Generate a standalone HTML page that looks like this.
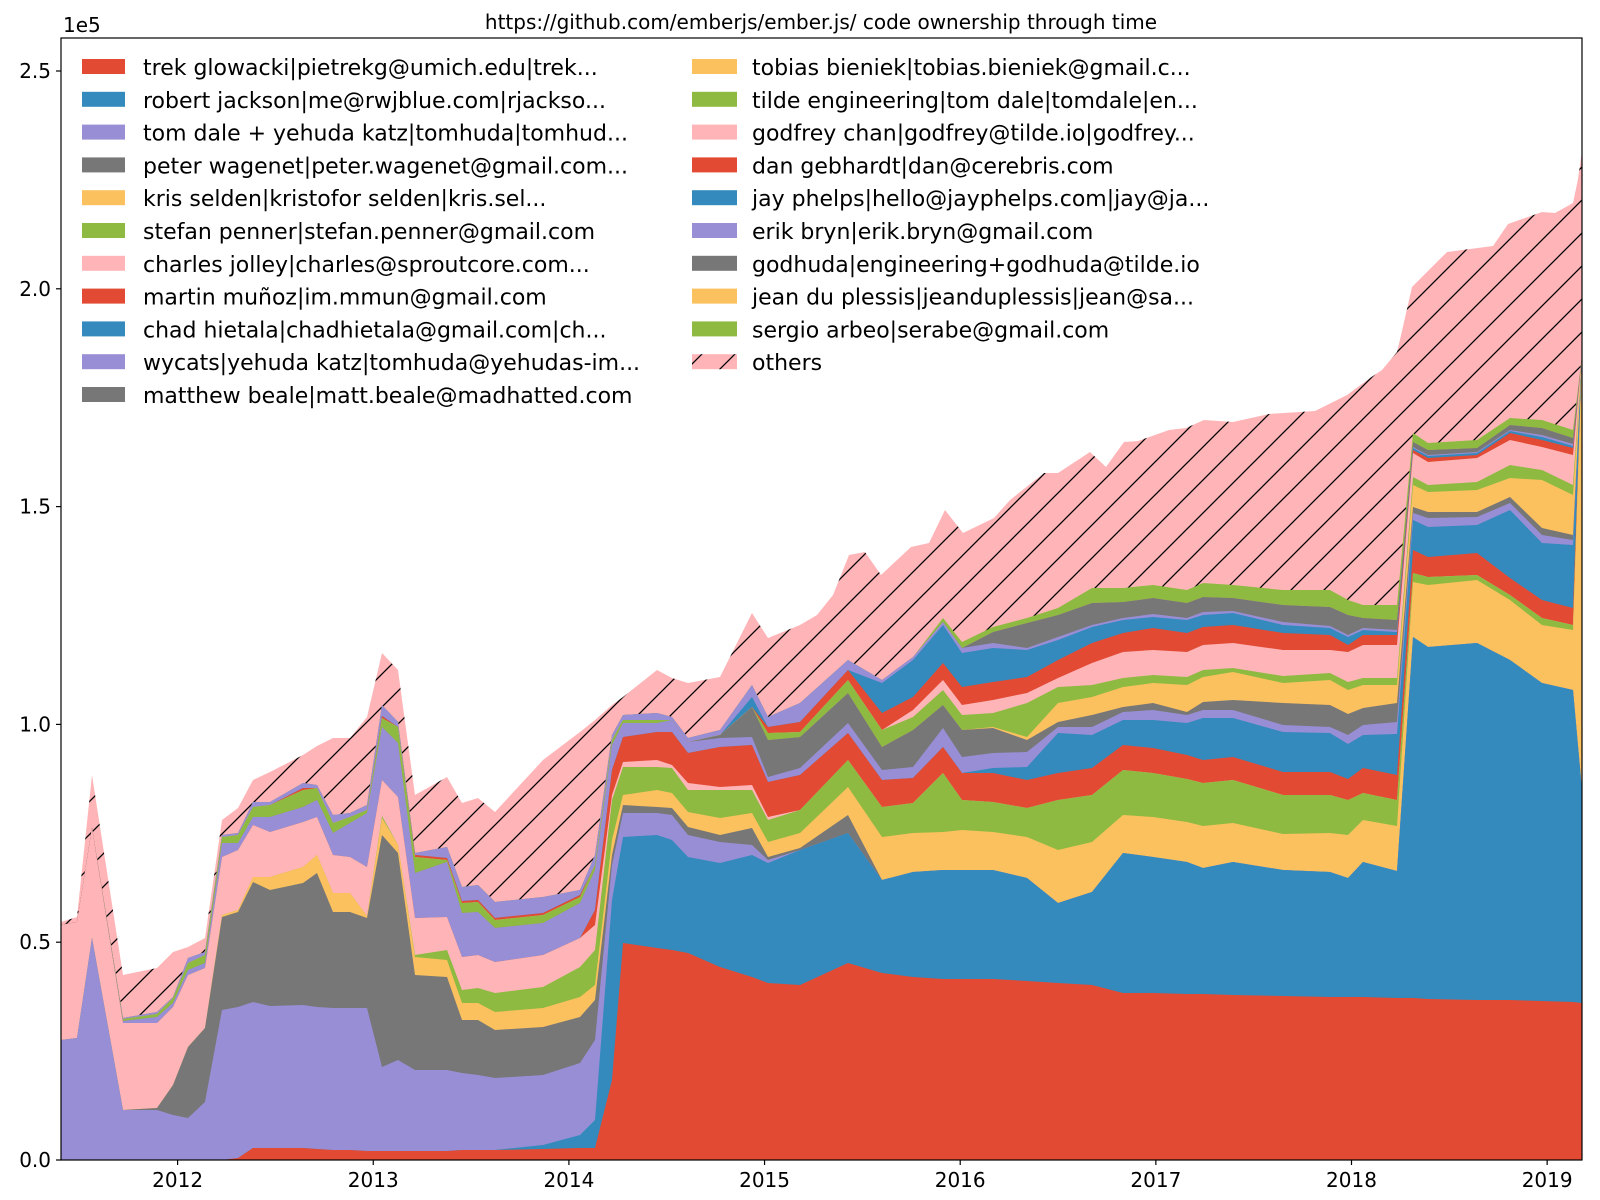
<!DOCTYPE html>
<html><head><meta charset="utf-8">
<style>
html,body{margin:0;padding:0;background:#fff;}
svg{display:block;font-family:"DejaVu Sans","Liberation Sans",sans-serif;}
</style></head>
<body>
<svg id="s" width="1600" height="1200" viewBox="0 0 1600 1200" xmlns="http://www.w3.org/2000/svg">
<defs>
<pattern id="hatch" patternUnits="userSpaceOnUse" width="33" height="33">
<rect width="33" height="33" fill="#FFB5B8"/>
<path d="M-2,35 L35,-2 M-10,10 L10,-10 M23,43 L43,23" stroke="#000" stroke-width="1.3"/>
</pattern>
<clipPath id="ax"><rect x="61" y="38" width="1521" height="1122"/></clipPath>
</defs>
<g id="plot" clip-path="url(#ax)"></g>
<rect x="61" y="38" width="1521" height="1122" fill="none" stroke="#000" stroke-width="1.2"/>
<g id="ticks"></g>
<text x="821" y="29" font-size="20" text-anchor="middle">https://github.com/emberjs/ember.js/ code ownership through time</text>
<text x="63" y="32" font-size="20">1e5</text>
<g id="legend"></g>
</svg>
<script>
var C=["#E24A33","#348ABD","#988ED5","#777777","#FBC15E","#8EBA42","#FFB5B8"];
var colors=[];for(var i=0;i<20;i++)colors.push(C[i%7]);
var B=1160;
var total=[[61,922],[77,917],[92,775],[123,975],[157,968],[173,952],[188,947],[205,938],[222,820],[238,808],[253,780],[270,772],[303,755],[317,746],[333,738],[350,738],[367,717],[382,653],[398,670],[415,795],[447,777],[462,803],[478,798],[495,812],[543,760],[580,732],[595,720],[612,705],[623,697],[657,670],[672,678],[688,683],[720,677],[752,613],[768,638],[800,625],[817,615],[833,595],[849,555],[865,552],[881,575],[911,547],[929,543],[945,510],[963,533],[994,518],[1010,500],[1044,473],[1058,473],[1090,452],[1106,467],[1124,442],[1138,441],[1169,430],[1186,428],[1204,420],[1233,422],[1269,414],[1315,411],[1347,395],[1370,378],[1382,370],[1397,352],[1402,331],[1412,287],[1447,252],[1493,246],[1508,224],[1542,212],[1555,213],[1573,203],[1578,179],[1582,151]];
var cols=[
[61,{2:1040,6:925}],
[77,{2:1038,6:922}],
[92,{2:938,6:828}],
[123,{2:1110,6:1023,9:1021,12:1019,16:1018}],
[157,{2:1110,3:1108,6:1023,9:1017,12:1014,16:1012}],
[173,{2:1115,3:1085,6:1007,9:1003,12:998,16:997}],
[188,{2:1118,3:1047,6:975,9:970,12:963,16:958}],
[205,{2:1102,3:1028,6:968,9:963,12:955,16:952}],
[222,{2:1010,3:917,4:915,6:857,9:843,12:837,16:835}],
[238,{0:1158,2:1007,3:912,4:910,6:850,9:843,12:835,16:833}],
[253,{0:1148,2:1002,3:882,4:877,6:825,9:817,12:807,16:802}],
[270,{0:1148,2:1006,3:890,4:877,6:832,9:817,12:805,16:802}],
[303,{0:1148,2:1005,3:883,4:867,6:822,9:807,12:790,14:788,16:783}],
[317,{0:1149,2:1007,3:873,4:855,6:817,9:800,12:788,16:785}],
[333,{0:1150,2:1008,3:912,4:893,6:855,9:833,12:823,16:815}],
[350,{0:1150,2:1008,3:912,4:893,6:857,9:823,12:817,16:813}],
[367,{0:1151,2:1008,3:918,4:916,6:867,9:813,12:810,16:805}],
[382,{0:1151,2:1067,3:835,4:818,5:816,6:780,9:727,12:718,14:716,16:705}],
[398,{0:1151,2:1060,3:853,4:845,6:797,9:743,12:727,16:722}],
[415,{0:1151,2:1070,3:975,4:957,5:955,6:918,9:873,12:857,14:855,16:853}],
[447,{0:1151,2:1070,3:977,4:960,5:950,6:917,9:862,12:860,14:858,16:847}],
[462,{0:1150,2:1073,3:1020,4:1003,5:990,6:957,9:913,12:903,14:901,16:887}],
[478,{0:1150,2:1075,3:1020,4:1003,5:988,6:955,9:912,12:902,14:900,16:885}],
[495,{0:1150,2:1078,3:1030,4:1012,5:993,6:962,9:928,12:920,14:918,16:902}],
[543,{0:1149,1:1145,2:1075,3:1027,4:1008,5:987,6:955,9:923,12:915,14:913,16:897}],
[580,{0:1148,1:1135,2:1063,3:1017,4:997,5:967,6:938,9:903,12:897,14:895,16:890}],
[595,{0:1148,1:1120,2:1040,3:1000,4:985,5:950,6:925,7:910,9:870,12:865,16:855}],
[612,{0:1080,1:900,2:865,3:855,4:840,5:800,6:795,7:770,9:745,12:740,16:735}],
[623,{0:943,1:837,2:813,3:805,4:795,5:767,6:762,7:737,9:723,12:720,16:715}],
[657,{0:948,1:835,2:813,3:807,4:790,5:767,6:760,7:732,9:723,12:720,16:713}],
[672,{0:950,1:840,2:815,3:808,4:793,5:768,6:765,7:732,9:720,16:717}],
[688,{0:953,1:857,2:835,3:827,4:812,5:790,6:783,7:753,9:742,16:738}],
[720,{0:967,1:863,2:842,3:835,4:818,5:790,6:787,7:747,9:738,10:735,16:730}],
[752,{0:977,1:855,2:845,3:828,4:813,5:790,6:785,7:745,9:737,10:707,15:697,16:685}],
[768,{0:983,1:863,2:860,3:857,4:842,5:820,6:817,7:782,9:777,10:740,12:733,14:727,16:717}],
[800,{0:985,1:850,3:848,4:833,5:810,7:775,9:768,10:737,12:732,14:722,16:703}],
[848,{0:963,1:833,3:815,4:787,5:760,7:733,9:723,10:693,12:680,14:670,16:660}],
[882,{0:973,1:880,4:837,5:807,7:780,9:770,10:747,12:730,14:713,15:683,16:680}],
[913,{0:977,1:872,4:833,5:803,7:778,9:767,10:730,12:717,13:710,14:697,15:660,16:657}],
[943,{0:979,1:870,4:832,5:773,7:747,9:728,10:705,12:690,13:680,14:663,15:625,16:622,19:618}],
[962,{0:979,1:870,4:830,5:800,7:773,9:757,10:730,12:715,13:705,14:687,15:653,16:648,19:642}],
[993,{0:979,1:870,4:832,5:802,7:773,8:768,9:753,10:728,11:727,12:713,13:700,14:682,15:648,16:643,17:632,19:627}],
[1027,{0:981,1:878,4:837,5:808,7:780,8:767,9:752,10:740,11:737,12:703,13:693,14:677,15:650,16:648,17:623,19:618}],
[1058,{0:983,1:903,4:850,5:800,7:773,8:733,9:727,10:722,11:703,12:687,13:678,14:660,15:640,16:637,17:615,19:608}],
[1092,{0:985,1:892,4:842,5:795,7:768,8:735,9:727,10:715,11:697,12:685,13:663,14:643,15:627,16:625,17:603,19:588}],
[1123,{0:993,1:853,4:815,5:770,7:745,8:720,9:712,10:707,11:687,12:678,13:652,14:633,15:620,16:618,17:602,19:588}],
[1153,{0:993,1:857,4:817,5:773,7:748,8:720,9:710,10:703,11:683,12:675,13:650,14:628,15:617,16:614,17:598,19:585}],
[1187,{0:994,1:862,4:822,5:779,7:755,8:723,9:715,10:712,11:685,12:677,13:652,14:633,15:620,16:618,17:603,19:590}],
[1203,{0:994,1:868,4:826,5:783,7:760,8:718,9:710,10:702,11:677,12:670,13:645,14:627,15:615,16:612,17:597,19:583}],
[1233,{0:995,1:862,4:823,5:780,7:757,8:718,9:710,10:700,11:672,12:668,13:643,14:625,15:613,16:611,17:598,19:585}],
[1283,{0:996,1:870,4:834,5:795,7:772,8:732,9:725,10:703,11:683,12:676,13:650,14:633,15:625,16:622,17:605,19:590}],
[1330,{0:997,1:872,4:833,5:795,7:772,8:733,9:727,10:705,11:680,12:673,13:650,14:635,15:628,16:626,17:607,19:590}],
[1348,{0:997,1:878,4:835,5:800,7:779,8:744,9:735,10:714,11:690,12:682,13:652,14:645,15:637,16:635,17:615,19:600}],
[1363,{0:997,1:862,4:820,5:793,7:768,8:735,9:725,10:708,11:685,12:678,13:645,14:635,15:630,16:628,17:618,19:605}],
[1397,{0:998,1:871,4:826,5:800,7:775,8:734,9:722,10:703,11:685,12:678,13:645,14:635,15:632,16:630,17:620,19:605}],
[1413,{0:998,1:637,4:582,5:573,7:550,8:520,9:513,10:507,11:485,12:477,13:453,14:450,15:448,16:447,17:442,19:433}],
[1428,{0:999,1:647,4:585,5:577,7:557,8:527,9:518,10:512,11:492,12:485,13:462,14:458,15:456,16:455,17:450,19:443}],
[1477,{0:1000,1:643,4:580,5:575,7:553,8:525,9:517,10:512,11:490,12:482,13:458,14:455,15:453,16:452,17:448,19:440}],
[1510,{0:1000,1:660,4:600,5:595,7:578,8:510,9:503,10:497,11:478,12:465,13:440,14:433,15:431,16:430,17:425,19:418}],
[1542,{0:1001,1:683,4:625,5:618,7:600,8:543,9:535,10:528,11:480,12:470,13:447,14:440,15:437,16:435,17:428,19:420}],
[1573,{0:1002,1:690,4:630,5:625,7:608,8:545,9:540,10:535,11:495,12:485,13:455,14:448,15:446,16:444,17:438,19:430}],
[1582,{0:1003,1:790,4:355}]
];
var NS="http://www.w3.org/2000/svg";
var plot=document.getElementById("plot");
function poly(pts,fill){var p=document.createElementNS(NS,"polygon");
 var s=pts.map(function(q){return q[0]+","+q[1]}).join(" ");
 s+=" "+pts[pts.length-1][0]+","+B+" "+pts[0][0]+","+B;
 p.setAttribute("points",s);p.setAttribute("fill",fill);plot.appendChild(p);}
poly(total,"url(#hatch)");
for(var i=19;i>=0;i--){
 var pts=cols.map(function(c){var t=B;for(var j=0;j<=i;j++){if(c[1][j]!==undefined)t=c[1][j];}return [c[0],t];});
 poly(pts,colors[i]);
}
var tk=document.getElementById("ticks");
function el(tag,attrs,txt){var e=document.createElementNS(NS,tag);for(var k in attrs)e.setAttribute(k,attrs[k]);if(txt)e.textContent=txt;tk.appendChild(e);}
["0.0","0.5","1.0","1.5","2.0","2.5"].forEach(function(l,i){var y=B-i*0.5*435.6;
 el("line",{x1:56,x2:61,y1:y,y2:y,stroke:"#000","stroke-width":1.2});
 el("text",{x:51,y:y+7,"font-size":20,"text-anchor":"end"},l);});
for(var yr=2012;yr<=2019;yr++){var x=177.6+(yr-2012)*195.65;
 el("line",{x1:x,x2:x,y1:B,y2:B+5,stroke:"#000","stroke-width":1.2});
 el("text",{x:x,y:B+27,"font-size":20,"text-anchor":"middle"},""+yr);}
var lg=document.getElementById("legend");
var names1=["trek glowacki|pietrekg@umich.edu|trek...","robert jackson|me@rwjblue.com|rjackso...","tom dale + yehuda katz|tomhuda|tomhud...","peter wagenet|peter.wagenet@gmail.com...","kris selden|kristofor selden|kris.sel...","stefan penner|stefan.penner@gmail.com","charles jolley|charles@sproutcore.com...","martin muñoz|im.mmun@gmail.com","chad hietala|chadhietala@gmail.com|ch...","wycats|yehuda katz|tomhuda@yehudas-im...","matthew beale|matt.beale@madhatted.com"];
var names2=["tobias bieniek|tobias.bieniek@gmail.c...","tilde engineering|tom dale|tomdale|en...","godfrey chan|godfrey@tilde.io|godfrey...","dan gebhardt|dan@cerebris.com","jay phelps|hello@jayphelps.com|jay@ja...","erik bryn|erik.bryn@gmail.com","godhuda|engineering+godhuda@tilde.io","jean du plessis|jeanduplessis|jean@sa...","sergio arbeo|serabe@gmail.com","others"];
function L(tag,attrs,txt){var e=document.createElementNS(NS,tag);for(var k in attrs)e.setAttribute(k,attrs[k]);if(txt)e.textContent=txt;lg.appendChild(e);}
L("rect",{x:71,y:46,width:1154,height:368,rx:4,fill:"#fff","fill-opacity":0.8});
names1.forEach(function(n,i){var y=67+i*32.8;
 L("rect",{x:82,y:y-8,width:43,height:15,fill:colors[i]});
 L("text",{x:143,y:y+8,"font-size":22},n);});
names2.forEach(function(n,i){var y=67+i*32.8;
 L("rect",{x:692,y:y-8,width:45,height:15,fill:i<9?colors[11+i]:"url(#hatch)"});
 L("text",{x:752,y:y+8,"font-size":22},n);});
</script>
</body></html>
